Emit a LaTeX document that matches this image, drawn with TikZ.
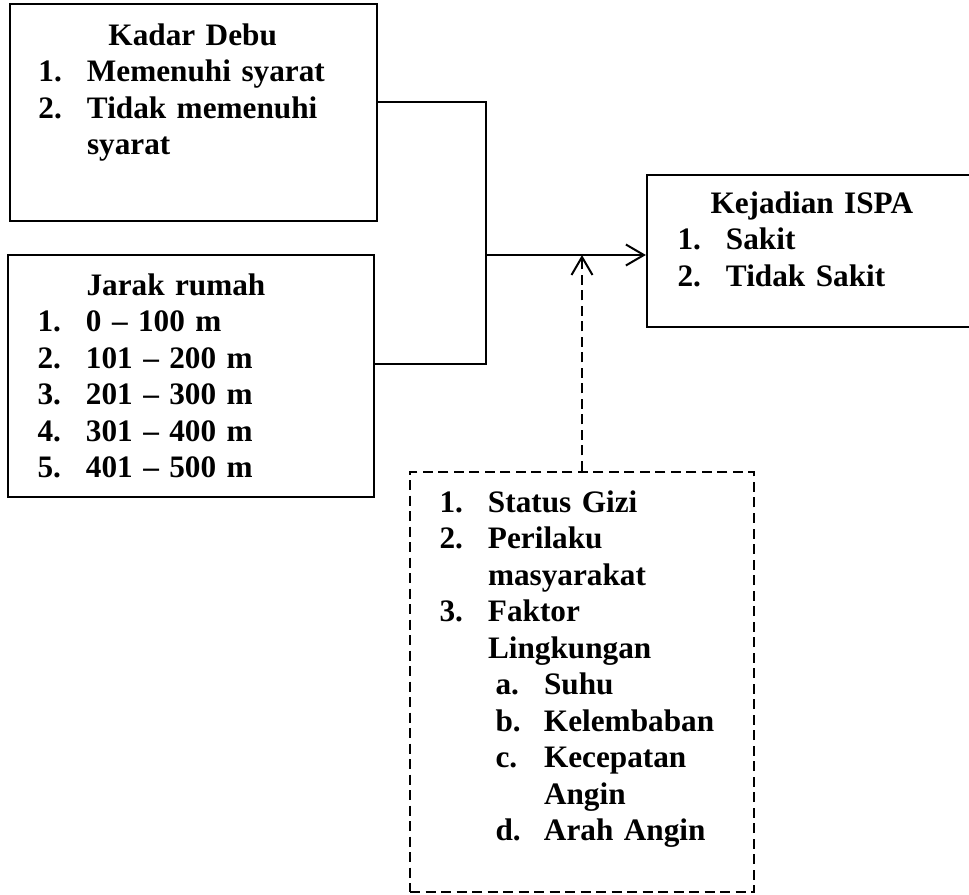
\documentclass[tikz,border=0pt]{standalone}
\usepackage{fontspec}
\setmainfont{Liberation Serif}
\usetikzlibrary{arrows.meta,fit}

\tikzset{
  kotak/.style={draw, line width=0.9pt, inner sep=0pt},
  putus/.style={dash pattern=on 4pt off 2.2pt},
  isi/.style={anchor=base west, inner sep=0pt, align=left, text width=150pt,
    font=\bfseries\fontsize{12.5}{14.6}\selectfont},
  garis/.style={line width=0.8pt},
  panah/.style={-{Straight Barb[length=7.2pt,width=8.4pt]}}
}
\def\nm#1{\makebox[19.4pt][l]{#1}}

\begin{document}
\begin{tikzpicture}[x=0.4pt,y=-0.4pt]
\useasboundingbox (0,0) rectangle (969,895);

% kotak
\node [kotak, fit={(10,4) (377,221)}] (debu) {};
\node [kotak, fit={(8,255) (374,497)}] (jarak) {};
\node [kotak, fit={(647,175) (995,327)}] (ispa) {};
\node [kotak, putus, fit={(410,472) (754,892)}] (faktor) {};

% isi kotak
\node [isi] (debuisi) at (38,45)
  {\hspace*{28pt}Kadar Debu\\
   \nm{1.}Memenuhi syarat\\
   \nm{2.}Tidak memenuhi\\
   \hspace*{19.4pt}syarat};

\node [isi] (jarakisi) at (37,295)
  {\hspace*{19.6pt}Jarak rumah\\
   \nm{1.}0 -- 100 m\\
   \nm{2.}101 -- 200 m\\
   \nm{3.}201 -- 300 m\\
   \nm{4.}301 -- 400 m\\
   \nm{5.}401 -- 500 m};

\node [isi] (ispaisi) at (677,213)
  {\hspace*{13.2pt}Kejadian ISPA\\
   \nm{1.}Sakit\\
   \nm{2.}Tidak Sakit};

\node [isi] (faktorisi) at (439,512)
  {\nm{1.}Status Gizi\\
   \nm{2.}Perilaku\\
   \hspace*{19.4pt}masyarakat\\
   \nm{3.}Faktor\\
   \hspace*{19.4pt}Lingkungan\\
   \hspace*{22.4pt}\nm{a.}Suhu\\
   \hspace*{22.4pt}\nm{b.}Kelembaban\\
   \hspace*{22.4pt}\nm{c.}Kecepatan\\
   \hspace*{41.8pt}Angin\\
   \hspace*{22.4pt}\nm{d.}Arah Angin};

% garis
\coordinate (simpul) at (486,255);
\draw [garis] (debu.east) ++(0,-10.5) -| (simpul);
\draw [garis] (jarak.east) ++(0,-12) -| (simpul);
\draw [garis, panah] (simpul) -- (simpul -| ispa.west);
\draw [garis, putus, panah] (faktor.north) -- (faktor.north |- simpul);
\end{tikzpicture}
\end{document}
